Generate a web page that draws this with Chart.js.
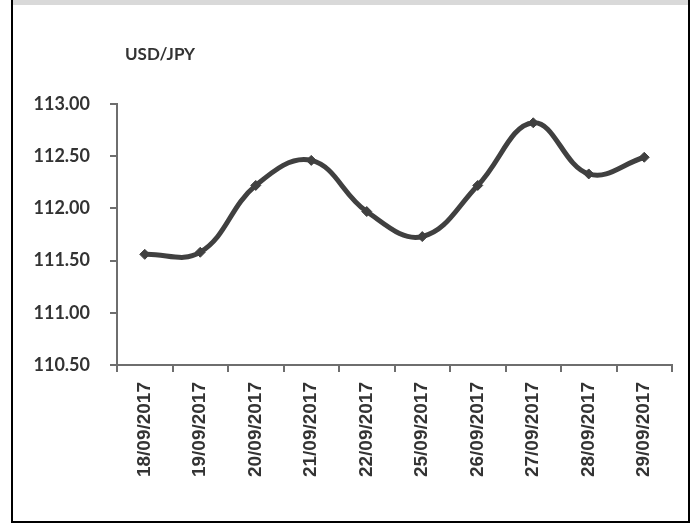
<!DOCTYPE html>
<html>
<head>
<meta charset="utf-8">
<script src="https://cdn.jsdelivr.net/npm/chart.js@4"></script>
<style>
  html, body { margin: 0; padding: 0; background: #fff; }
  #frame {
    position: absolute; left: 11px; top: 0; width: 675px; height: 521px;
    border-left: 2px solid #000; border-right: 2px solid #000; border-bottom: 2px solid #000;
    background: linear-gradient(#d9d9d9 0, #d9d9d9 5px, #fff 5px);
  }
  #wrap { position: absolute; left: 0; top: 0; width: 696px; height: 523px; }
</style>
</head>
<body>
<div id="frame"></div>
<div id="wrap"><canvas id="fxChart"></canvas></div>
<script>
// ====== DATA ======
const dates = ['18/09/2017','19/09/2017','20/09/2017','21/09/2017','22/09/2017',
               '25/09/2017','26/09/2017','27/09/2017','28/09/2017','29/09/2017'];
const usdJpy = [111.56, 111.58, 112.22, 112.46, 111.97, 111.73, 112.22, 112.82, 112.33, 112.49];
const yMin = 110.5;
const yMax = 113.0;
const yStep = 0.5;
const chartTitle = 'USD/JPY';

// ====== CHART ======
const titlePlugin = {
  id: 'cornerTitle',
  afterDraw(chart) {
    const c = chart.ctx;
    c.save();
    c.font = 'bold 17px Lato';
    c.fillStyle = '#333333';
    c.textBaseline = 'alphabetic';
    c.fillText(chartTitle, chart.chartArea.left + 8, 60);
    c.restore();
  }
};

function initFxChart() {
  const ctx = document.getElementById('fxChart');
  new Chart(ctx, {
    type: 'line',
    data: {
      labels: dates,
      datasets: [{
        label: chartTitle,
        data: usdJpy,
        borderColor: '#404040',
        backgroundColor: '#404040',
        borderWidth: 5,
        tension: 0.4,
        pointStyle: 'rectRot',
        pointRadius: 5,
        pointBorderWidth: 1,
        pointBackgroundColor: '#404040',
        pointBorderColor: '#404040'
      }]
    },
    options: {
      responsive: true,
      maintainAspectRatio: false,
      animation: false,
      layout: { padding: { top: 104, right: 24, left: 0, bottom: 0 } },
      plugins: { legend: { display: false }, tooltip: { enabled: false } },
      scales: {
        y: {
          min: yMin, max: yMax,
          afterFit: s => { s.width = 117; },
          border: { color: '#6e6e6e', width: 2 },
          grid: { drawOnChartArea: false, drawTicks: true, tickLength: 7, color: '#6e6e6e', lineWidth: 2 },
          ticks: {
            stepSize: yStep,
            padding: 20,
            color: '#333333',
            font: { family: 'Lato', size: 18, weight: 'bold' },
            callback: v => v.toFixed(2)
          }
        },
        x: {
          offset: true,
          afterFit: s => { s.height = 158; },
          border: { color: '#6e6e6e', width: 2 },
          grid: { offset: true, drawOnChartArea: false, drawTicks: true, tickLength: 7, color: '#6e6e6e', lineWidth: 2 },
          ticks: {
            minRotation: 90, maxRotation: 90,
            autoSkip: false,
            padding: 10,
            color: '#333333',
            font: { family: 'Liberation Sans', size: 19, weight: 'bold' }
          }
        }
      }
    },
    plugins: [titlePlugin]
  });
}

initFxChart();
</script>
</body>
</html>
